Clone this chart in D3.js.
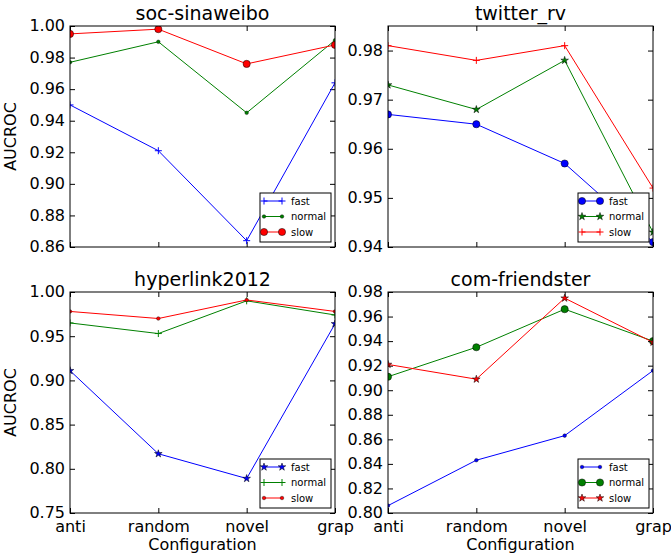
<!DOCTYPE html>
<html>
<head>
<meta charset="utf-8">
<script src="https://cdn.jsdelivr.net/npm/d3@7"></script>
<style>
  body { margin: 0; background: #fff; }
  text { font-family: "DejaVu Sans", sans-serif; }
</style>
</head>
<body>
<script>
// categories and series names
var configs = ["anti", "random", "novel", "grap"];
var speeds = ["fast", "normal", "slow"];
var colors = ["#0000ff", "#008000", "#ff0000"];

// soc-sinaweibo
var sinaFast   = [0.950, 0.921, 0.864, 0.964];
var sinaNormal = [0.977, 0.990, 0.945, 0.991];
var sinaSlow   = [0.995, 0.998, 0.976, 0.988];
var sinaTicks  = [0.86, 0.88, 0.90, 0.92, 0.94, 0.96, 0.98, 1.00];

// twitter_rv
var twFast   = [0.967, 0.965, 0.957, 0.941];
var twNormal = [0.973, 0.968, 0.978, 0.943];
var twSlow   = [0.981, 0.978, 0.981, 0.952];
var twTicks  = [0.94, 0.95, 0.96, 0.97, 0.98];

// hyperlink2012
var hlFast   = [0.911, 0.817, 0.789, 0.964];
var hlNormal = [0.965, 0.953, 0.990, 0.974];
var hlSlow   = [0.978, 0.970, 0.991, 0.978];
var hlTicks  = [0.75, 0.80, 0.85, 0.90, 0.95, 1.00];

// com-friendster
var cfFast   = [0.806, 0.843, 0.863, 0.916];
var cfNormal = [0.911, 0.935, 0.966, 0.940];
var cfSlow   = [0.921, 0.909, 0.975, 0.939];
var cfTicks  = [0.80, 0.82, 0.84, 0.86, 0.88, 0.90, 0.92, 0.94, 0.96, 0.98];

var width = 671, height = 558;
var pw = 265, ph = 221;

var panels = [
  {title: "soc-sinaweibo", x: 70, y: 26, series: [sinaFast, sinaNormal, sinaSlow],
   markers: ["plus", "point", "circle"], domain: [0.86, 1.00], ticks: sinaTicks,
   ylabel: true, xlabels: false},
  {title: "twitter_rv", x: 388, y: 26, series: [twFast, twNormal, twSlow],
   markers: ["circle", "star", "plus"], domain: [0.94, 0.985], ticks: twTicks,
   ylabel: false, xlabels: false},
  {title: "hyperlink2012", x: 70, y: 292, series: [hlFast, hlNormal, hlSlow],
   markers: ["star", "plus", "point"], domain: [0.75, 1.00], ticks: hlTicks,
   ylabel: true, xlabels: true},
  {title: "com-friendster", x: 388, y: 292, series: [cfFast, cfNormal, cfSlow],
   markers: ["point", "circle", "star"], domain: [0.80, 0.98], ticks: cfTicks,
   ylabel: false, xlabels: true}
];

var svg = d3.select("body").append("svg")
    .attr("width", width)
    .attr("height", height);

function drawMarker(g, type, color, cx, cy) {
  if (type == "plus") {
    g.append("path")
      .attr("d", "M" + (cx - 3.5) + "," + cy + "H" + (cx + 3.5) + "M" + cx + "," + (cy - 3.5) + "V" + (cy + 3.5))
      .attr("stroke", color).attr("stroke-width", 1).attr("fill", "none");
  } else if (type == "circle") {
    g.append("circle").attr("cx", cx).attr("cy", cy).attr("r", 3.6)
      .attr("fill", color).attr("stroke", "#000").attr("stroke-width", 0.5);
  } else if (type == "point") {
    g.append("circle").attr("cx", cx).attr("cy", cy).attr("r", 1.8)
      .attr("fill", color).attr("stroke", "#000").attr("stroke-width", 0.4);
  } else if (type == "star") {
    g.append("path")
      .attr("d", d3.symbol(d3.symbolStar, 18)())
      .attr("transform", "translate(" + cx + "," + cy + ")")
      .attr("fill", color).attr("stroke", "#000").attr("stroke-width", 0.5);
  }
}

panels.forEach(function(p, pi) {
  var g = svg.append("g").attr("transform", "translate(" + p.x + "," + p.y + ")");

  var x = d3.scalePoint().domain(configs).range([0, pw]);
  var y = d3.scaleLinear().domain(p.domain).range([ph, 0]);

  g.append("defs").append("clipPath").attr("id", "clip" + pi)
    .append("rect").attr("width", pw).attr("height", ph);

  // axes: ticks pointing inward on all four sides
  var left = g.append("g")
    .call(d3.axisRight(y).tickValues(p.ticks).tickSize(5).tickFormat(d3.format(".2f")));
  left.selectAll("text").attr("x", -5).attr("text-anchor", "end")
    .attr("font-size", 16).attr("fill", "#000").attr("dy", "0.3em");
  g.append("g").attr("transform", "translate(" + pw + ",0)")
    .call(d3.axisLeft(y).tickValues(p.ticks).tickSize(5).tickFormat(""));
  var bottom = g.append("g").attr("transform", "translate(0," + ph + ")")
    .call(d3.axisTop(x).tickSize(5).tickFormat(p.xlabels ? null : ""));
  bottom.selectAll("text").attr("y", 19).attr("dy", 0)
    .attr("font-size", 16).attr("fill", "#000");
  g.append("g").call(d3.axisBottom(x).tickSize(5).tickFormat(""));
  g.selectAll(".domain").remove();
  g.selectAll(".tick line").attr("stroke", "#000");

  // lines and markers
  var plot = g.append("g").attr("clip-path", "url(#clip" + pi + ")");
  var line = d3.line().x(function(d, i) { return x(configs[i]); }).y(function(d) { return y(d); });
  p.series.forEach(function(vals, si) {
    plot.append("path").attr("d", line(vals))
      .attr("fill", "none").attr("stroke", colors[si]).attr("stroke-width", 1);
    vals.forEach(function(v, i) {
      drawMarker(plot, p.markers[si], colors[si], x(configs[i]), y(v));
    });
  });

  // frame
  g.append("rect").attr("width", pw).attr("height", ph)
    .attr("fill", "none").attr("stroke", "#000").attr("stroke-width", 1);

  // title
  g.append("text").attr("x", pw / 2).attr("y", -6).attr("text-anchor", "middle")
    .attr("font-size", 19).text(p.title);

  if (p.ylabel) {
    g.append("text").attr("transform", "translate(-54," + (ph / 2) + ") rotate(-90)")
      .attr("text-anchor", "middle").attr("font-size", 16).text("AUCROC");
  }
  if (p.xlabels) {
    g.append("text").attr("x", pw / 2).attr("y", ph + 37).attr("text-anchor", "middle")
      .attr("font-size", 16).text("Configuration");
  }

  // legend, lower right
  var lw = 71, lh = 49;
  var lg = g.append("g").attr("transform", "translate(" + (pw - 4 - lw) + "," + (ph - 5 - lh) + ")");
  lg.append("rect").attr("width", lw).attr("height", lh)
    .attr("fill", "#fff").attr("stroke", "#000").attr("stroke-width", 1);
  speeds.forEach(function(s, si) {
    var ry = 8 + si * 15.5;
    lg.append("line").attr("x1", 4).attr("x2", 22).attr("y1", ry).attr("y2", ry)
      .attr("stroke", colors[si]).attr("stroke-width", 1);
    drawMarker(lg, p.markers[si], colors[si], 4, ry);
    drawMarker(lg, p.markers[si], colors[si], 22, ry);
    lg.append("text").attr("x", 31).attr("y", ry + 3.5).attr("font-size", 10).text(s);
  });
});
</script>
</body>
</html>
